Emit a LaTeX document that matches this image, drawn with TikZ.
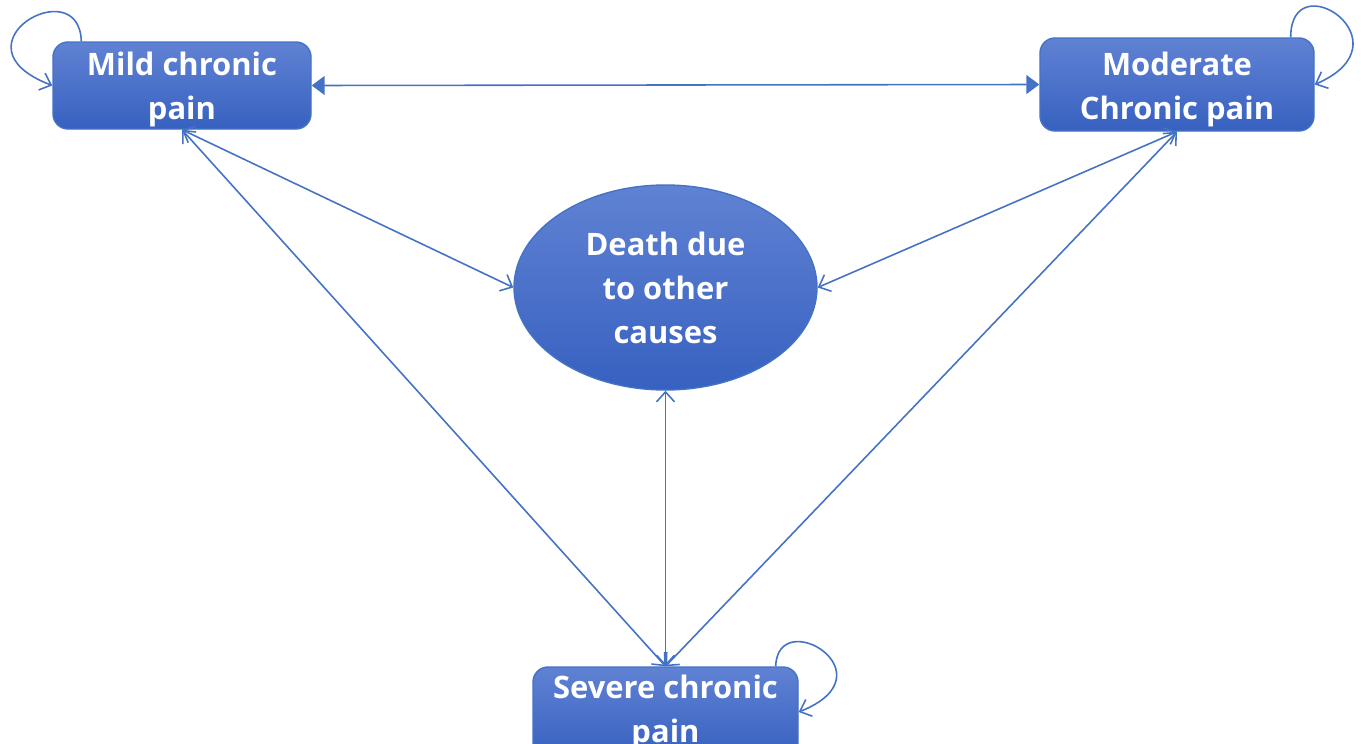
\documentclass[tikz,border=0pt]{standalone}
\usepackage{fontspec}
\newfontfamily\statefont{Open Sans}
\usetikzlibrary{calc, positioning}
\usetikzlibrary{arrows.meta}
\usetikzlibrary{shapes.geometric}
\definecolor{boxtop}{RGB}{96,130,211}
\definecolor{boxbot}{RGB}{55,97,192}
\definecolor{edgeblue}{RGB}{68,114,196}

\begin{document}
\begin{tikzpicture}[x=0.1mm, y=-0.1mm,
  state/.style={draw=edgeblue, line width=0.4pt, top color=boxtop, bottom color=boxbot,
    text=white, font=\statefont\bfseries\fontsize{8.8}{12.5}\selectfont, align=center, inner sep=0pt},
  trans/.style={edgeblue, line width=0.45pt,
    {Straight Barb[length=1mm,width=1.8mm]}-{Straight Barb[length=1mm,width=1.8mm]}},
  selfloop/.style={edgeblue, line width=0.45pt, -{Straight Barb[length=1mm,width=1.8mm]}}]
\useasboundingbox (0,0) rectangle (1361,744);
% states
\node[state, rounded corners=1.5mm, minimum width=25.8mm, minimum height=8.7mm, text height=21.5pt] (mild) at (182,85.5) {Mild chronic\\pain};
\node[state, rounded corners=1.5mm, minimum width=27.4mm, minimum height=9.3mm, text height=22.1pt] (moderate) at (1177,84.5) {Moderate\\Chronic pain};
\node[state, ellipse, minimum width=30.3mm, minimum height=20.5mm] (death) at (665.5,287.5) {Death due\\to other\\causes};
\node[state, rounded corners=1.5mm, minimum width=26.5mm, minimum height=9mm] (severe) at (665.5,712) {Severe chronic\\pain};
% transitions
\draw[edgeblue, line width=0.45pt, {Triangle[length=1.3mm,width=1.9mm]}-{Triangle[length=1.3mm,width=1.9mm]}] (mild.east) -- (moderate.west);
\draw[trans] (mild.south) -- (death.west);
\draw[trans] (mild.south) -- (severe.north);
\draw[trans] (moderate.south) -- (death.east);
\draw[trans] (moderate.south) -- (severe.north);
\draw[trans] (death.south) -- (severe.north);
% self loops
\draw[selfloop] ($(mild.north west)+(29,0)$) .. controls +(-2,-72) and +(-105,-40) .. (mild.west);
\draw[selfloop] ($(moderate.north east)+(-24,0)$) .. controls +(0,-76) and +(97,-42) .. (moderate.east);
\draw[selfloop] ($(severe.north east)+(-23,0)$) .. controls +(2,-62) and +(95,-38) .. (severe.east);
\end{tikzpicture}
\end{document}
